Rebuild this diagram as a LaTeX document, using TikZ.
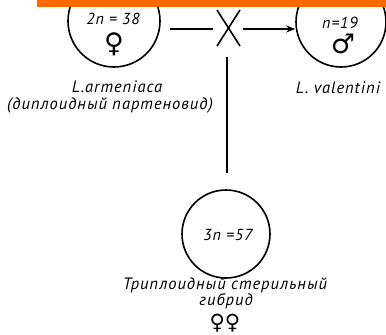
\documentclass[tikz,border=0pt]{standalone}
\usepackage{fontspec}
\setmainfont{PT Sans}
\newfontfamily\lab[LetterSpace=6]{PT Sans}
\newfontfamily\sym{DejaVu Sans}
\usetikzlibrary{arrows.meta}
\definecolor{barorange}{HTML}{FF6A00}
\tikzset{
  ring/.style={circle,draw,line width=1.6pt,minimum size=#1,inner sep=0pt},
  lbl/.style={inner sep=0pt,font=\lab\itshape\fontsize{16.5}{18}\selectfont},
  num/.style={inner sep=0pt,font=\lab\itshape\fontsize{16}{18}\selectfont},
  sx/.style={inner sep=0pt,font=\sym\fontsize{27}{29}\selectfont},
  ln/.style={line width=1.6pt},
}
\begin{document}
\begin{tikzpicture}[x=1pt,y=-1pt]
\useasboundingbox (0,0) rectangle (386,335);
% circles
\node[ring=92pt] (lc) at (114,21) {};
\node[ring=90pt] (rc) at (341,22) {};
\node[ring=88pt] (bc) at (226,234) {};
% texts in circles
\node[num] (t1) at (113,19) {2n = 38};
\node[sx] (f1) at (114,44) {♀};
\node[num] (t2) at (340,23) {n=19};
\node[sx] (m1) at (343,44) {♂};
\node[num] (t3) at (228,235) {3n =57};
% labels
\node[lbl] (la) at (117,87) {L.armeniaca};
\node[lbl] (lb) at (110,105) {(диплоидный партеновид)};
\node[lbl] (lv) at (338,88) {L. valentini};
\node[lbl] (hb1) at (225,285) {Триплоидный стерильный};
\node[lbl] (hb2) at (226,301) {гибрид};
\node[sx,font=\sym\fontsize{21}{23}\selectfont] (ff) at (225,323) {♀♀};
% cross
\coordinate (x) at (228.5,28);
\coordinate (a1) at (217,10);
\coordinate (a2) at (240,46);
\coordinate (b1) at (240,10);
\coordinate (b2) at (217,46);
\draw[ln] (a1) -- (x) -- (a2);
\draw[ln] (b1) -- (x) -- (b2);
\coordinate (l0) at (170,29);
\coordinate (l1) at (213,29);
\draw[ln] (l0) -- (l1);
\coordinate (r0) at (243,29);
\draw[ln,-{Stealth[length=9pt,width=7pt]}] (r0) -- (rc.west |- r0);
\coordinate (v0) at (227,57);
\coordinate (v1) at (227,173);
\draw[ln] (v0) -- (v1);
% top bar
\fill[barorange] (37,0) rectangle (386,7);
\end{tikzpicture}
\end{document}
